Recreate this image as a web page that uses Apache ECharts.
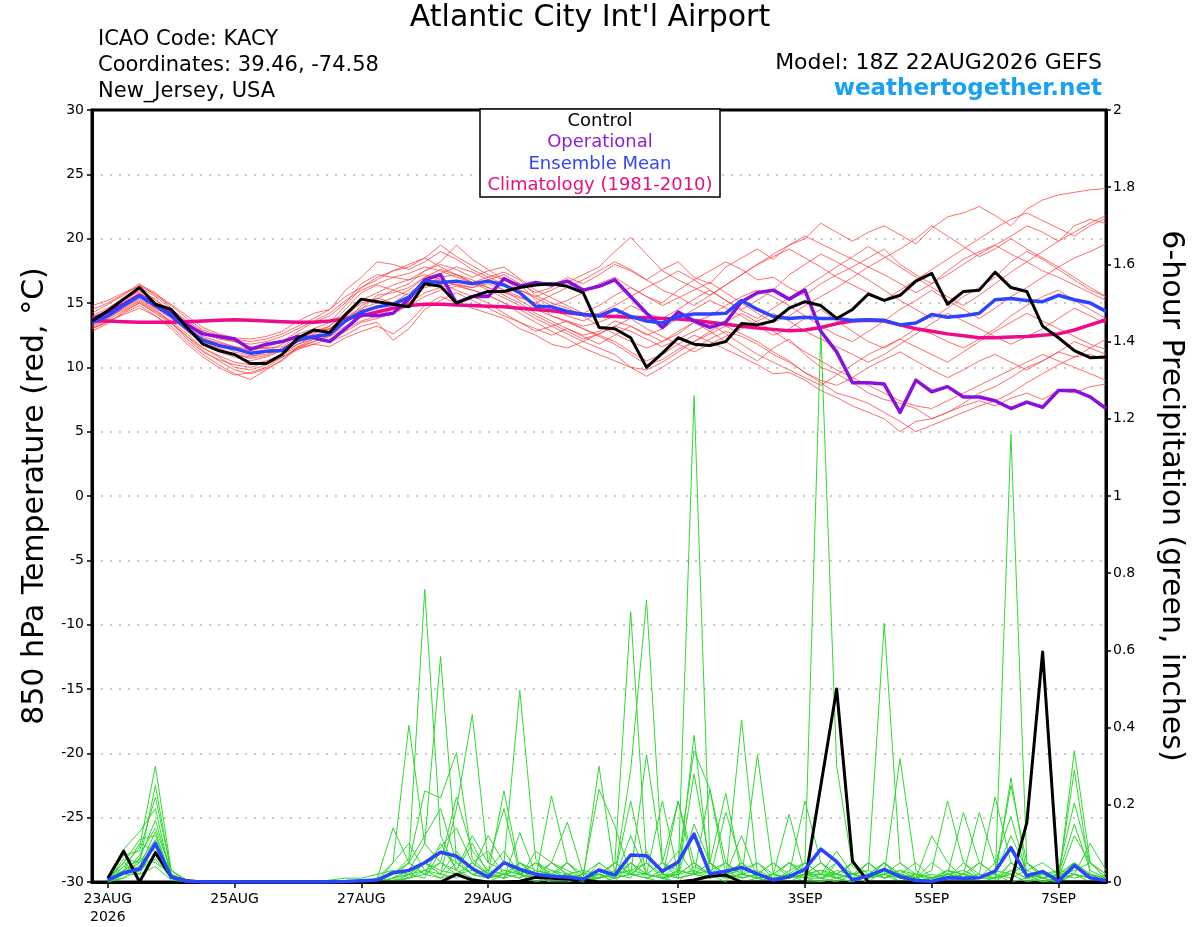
<!DOCTYPE html>
<html>
<head>
<meta charset="utf-8">
<script src="https://cdn.jsdelivr.net/npm/echarts@6/dist/echarts.min.js"></script>
<style>
  html, body { margin: 0; padding: 0; background: #fff; }
  #chart { width: 1200px; height: 927px; }
</style>
</head>
<body>
<div id="chart"></div>
<script>
const FONT = "'DejaVu Sans', 'Liberation Sans', Arial, sans-serif"

// x axis: hours since 18Z 22AUG2026, labels at 00Z
const dayHours = [6, 54, 102, 150, 222, 270, 318, 366]
const dayLabels = ["23AUG\n2026", "25AUG", "27AUG", "29AUG", "1SEP", "3SEP", "5SEP", "7SEP"]

// 850 hPa temperature, 6-hourly from 18Z 22AUG (65 values)
const controlTemp = [13.6,14.4,15.3,16.2,14.9,14.5,13.1,11.8,11.3,11.0,10.3,10.3,11.0,12.3,12.9,12.7,
  14.1,15.3,15.1,14.9,14.7,16.5,16.3,15.0,15.5,15.9,15.9,16.2,16.4,16.5,16.3,15.8,
  13.1,13.0,12.3,10.0,11.1,12.3,11.8,11.7,12.0,13.4,13.3,13.6,14.6,15.1,14.8,13.8,
  14.5,15.7,15.2,15.6,16.7,17.3,14.9,15.9,16.0,17.4,16.2,15.9,13.2,12.3,11.3,10.75,10.8]
const operationalTemp = [13.75,14.3,14.9,15.6,14.8,14.2,13.3,12.6,12.4,12.2,11.4,11.8,12.0,12.4,12.3,12.0,
  13.0,14.1,14.0,14.2,15.3,16.8,17.2,15.0,15.5,15.5,16.9,16.3,16.6,16.4,16.7,16.0,
  16.3,16.8,15.5,14.2,13.1,14.3,13.6,13.1,13.5,15.1,15.8,16.0,15.3,16.0,12.8,11.2,
  8.8,8.8,8.7,6.5,9.0,8.1,8.5,7.7,7.7,7.4,6.8,7.3,6.9,8.2,8.2,7.7,6.8]
const meanTemp = [13.5,14.0,14.8,15.55,14.8,14.0,13.0,12.1,11.7,11.45,11.1,11.25,11.3,12.1,12.4,12.55,
  13.6,14.3,14.7,14.9,15.45,16.7,16.6,16.7,16.5,16.7,16.4,15.8,14.75,14.7,14.35,14.1,
  14.0,14.5,13.95,13.6,13.45,13.95,14.15,14.15,14.2,15.2,14.5,13.95,13.8,13.9,13.8,13.8,
  13.65,13.7,13.65,13.3,13.45,14.1,13.9,14.0,14.2,15.25,15.35,15.2,15.1,15.6,15.25,15.0,14.35]
const climoTemp = [13.6,13.6,13.55,13.5,13.5,13.5,13.55,13.6,13.65,13.7,13.65,13.6,13.55,13.5,13.5,13.6,
  13.8,14.0,14.3,14.6,14.8,14.9,14.9,14.85,14.8,14.75,14.7,14.6,14.5,14.4,14.25,14.1,
  14.0,13.95,13.9,13.85,13.8,13.75,13.65,13.5,13.35,13.2,13.05,12.95,12.85,12.9,13.1,13.4,
  13.6,13.65,13.6,13.3,13.0,12.8,12.6,12.45,12.3,12.3,12.35,12.4,12.5,12.6,12.9,13.3,13.7]

const memberTemp = [
  [13.8,14.5,15.2,16.0,15.3,14.2,13.2,12.0,11.5,11.0,10.8,11.2,11.8,12.6,13.0,13.5,
   14.8,16.2,17.0,17.5,17.8,18.5,19.5,18.6,17.9,17.2,16.8,16.5,15.8,16.2,17.0,16.5,
   17.2,18.0,17.5,16.8,17.6,18.2,17.0,16.5,17.8,18.5,19.2,18.4,19.5,20.0,21.2,20.5,
   19.8,20.5,21.0,20.3,19.6,20.8,21.7,22.0,22.5,21.8,21.0,22.3,23.0,23.4,23.6,23.8,23.9],
  [13.2,13.8,14.6,15.2,14.5,13.5,12.4,11.3,10.5,9.8,9.5,9.9,10.5,11.5,12.0,12.5,
   13.2,13.9,14.3,14.6,15.0,16.2,16.5,16.0,15.5,15.0,14.2,13.5,12.8,13.2,13.6,13.0,
   12.5,12.0,11.2,10.5,11.0,11.8,12.5,12.0,11.4,10.8,10.2,9.5,9.6,9.0,8.2,7.65,
   7.0,6.5,6.0,5.0,5.8,6.0,6.5,7.0,7.4,7.0,7.6,8.0,7.5,8.2,8.0,8.5,8.7],
  [14.2,14.9,15.6,16.4,15.8,14.6,13.4,12.3,11.8,11.2,10.9,11.0,11.5,12.2,12.8,13.0,
   14.0,15.0,15.3,16.0,16.5,17.5,18.0,17.6,17.0,17.5,17.8,16.9,16.0,15.4,14.8,14.2,
   14.8,15.6,16.2,15.5,15.0,16.0,16.8,17.5,18.2,17.6,16.8,17.0,16.2,15.6,16.5,17.2,
   17.8,18.5,19.2,18.0,17.2,16.5,17.5,18.4,19.0,19.5,20.2,21.0,20.5,19.8,21.0,21.5,21.2],
  [13.0,13.5,14.2,14.8,14.0,13.2,12.0,11.0,10.2,9.5,9.05,9.8,10.6,11.6,12.2,12.0,
   12.5,13.2,13.5,12.1,13.0,14.5,15.2,15.8,15.2,14.6,14.0,13.5,13.0,12.5,13.0,12.4,
   11.8,12.5,13.2,12.6,12.0,12.6,13.5,12.8,12.0,11.2,10.5,11.5,12.2,11.0,10.0,9.5,
   8.8,8.0,7.5,7.2,6.8,6.0,6.5,7.2,8.0,8.5,9.2,10.0,10.5,11.2,10.8,11.0,10.6],
  [13.6,14.2,15.0,15.8,15.0,14.3,13.5,12.6,12.2,12.0,11.6,11.5,11.2,11.8,12.2,12.8,
   13.8,14.5,15.6,15.8,16.2,17.0,17.3,17.8,17.4,16.8,16.0,15.2,14.5,14.0,13.6,13.2,
   13.5,14.0,14.8,14.2,13.8,14.5,15.3,16.0,15.2,14.5,15.2,16.0,17.2,18.0,18.8,18.2,
   17.5,16.8,16.0,15.2,14.5,13.8,14.6,15.5,16.2,17.0,18.2,19.0,18.4,17.6,16.8,16.0,15.5],
  [13.4,14.0,14.7,15.3,14.6,13.8,12.8,11.8,11.2,10.8,10.5,10.8,11.3,12.0,12.6,13.2,
   14.5,15.8,16.4,16.0,15.6,16.4,17.0,17.2,16.6,16.2,15.6,15.0,14.2,13.6,13.0,12.5,
   12.8,13.6,13.2,12.5,13.0,13.8,14.5,15.2,14.6,14.0,13.2,12.5,13.0,13.8,14.5,13.6,
   12.8,12.0,11.5,12.2,13.0,12.6,12.0,11.5,12.2,13.0,14.0,14.8,15.5,16.0,15.2,14.5,13.8],
  [14.0,14.6,15.4,16.2,15.5,14.5,13.6,12.8,12.3,12.0,11.8,12.0,12.4,13.0,13.6,14.2,
   15.2,16.0,16.5,17.0,17.3,17.8,17.5,17.0,16.6,17.0,17.4,16.8,15.6,15.0,14.6,14.0,
   13.2,12.6,12.0,11.5,12.0,12.8,13.5,14.0,14.8,15.5,16.0,15.5,14.8,14.0,13.2,12.5,
   12.0,12.8,13.6,14.5,15.2,16.0,15.2,14.5,13.8,14.6,15.5,16.2,17.0,17.8,18.5,19.0,19.6],
  [12.8,13.4,14.3,15.0,14.2,13.4,12.4,11.5,10.8,10.0,9.8,10.2,10.8,11.4,11.8,12.2,
   12.8,13.5,13.8,14.2,14.8,15.5,16.0,16.3,16.0,15.6,15.0,14.5,13.8,13.2,12.6,12.0,
   11.5,11.0,10.0,9.3,10.0,10.8,11.5,12.2,12.8,12.4,11.8,11.0,10.4,9.6,9.0,8.6,
   9.2,10.0,10.6,11.2,10.5,9.8,9.2,9.8,10.5,11.0,10.4,9.8,10.5,11.2,12.0,11.5,11.0],
  [13.9,14.4,15.1,15.7,15.0,14.0,13.0,12.2,11.9,11.6,11.3,11.6,12.0,12.8,13.5,14.0,
   15.0,16.5,17.2,17.0,16.8,17.5,18.2,19.5,18.4,17.6,16.8,16.0,15.4,14.8,15.2,15.8,
   16.5,17.0,16.2,15.5,14.8,15.4,16.0,16.6,15.8,15.0,14.2,13.5,14.0,14.8,15.5,16.2,
   17.0,17.8,18.5,19.2,20.0,21.0,20.2,19.4,18.6,19.2,20.0,19.2,18.5,17.8,17.0,16.2,15.5],
  [13.3,13.9,14.5,15.1,14.4,13.6,12.6,11.5,10.9,10.4,10.2,10.5,11.0,11.6,12.0,12.4,
   13.0,13.6,14.0,14.5,15.0,15.8,16.2,16.5,16.2,16.8,17.2,16.5,15.2,14.0,13.5,13.0,
   12.4,11.8,11.0,10.2,10.6,11.4,12.0,12.6,13.2,12.6,12.0,11.2,10.5,9.6,8.8,8.0,
   7.65,7.2,6.5,5.8,5.0,5.5,6.0,6.5,7.0,7.4,8.0,8.8,9.5,10.2,10.8,11.5,12.2],
  [14.5,15.0,15.7,16.5,15.6,14.8,13.8,12.9,12.5,12.2,12.0,12.2,12.6,13.2,13.8,14.5,
   15.5,16.2,16.8,17.5,18.0,18.5,17.8,17.2,16.8,16.2,15.8,15.4,15.0,15.6,16.2,16.8,
   17.5,18.2,17.6,16.8,16.0,15.5,14.8,15.6,16.4,17.2,18.0,18.8,19.5,20.2,19.6,19.0,
   18.4,17.8,17.2,16.5,15.8,16.5,17.2,18.0,18.8,19.5,18.8,18.2,17.5,17.0,16.4,15.8,15.2],
  [13.1,13.7,14.4,15.0,14.3,13.5,12.2,11.2,10.6,10.2,10.0,10.4,11.0,11.8,12.4,13.0,
   13.6,14.8,15.4,15.0,15.8,16.5,16.8,16.4,16.0,15.6,15.0,14.2,13.5,12.8,12.2,11.5,
   11.0,10.5,10.0,9.8,10.4,11.2,12.0,12.8,13.5,14.2,13.5,12.8,12.0,11.2,10.5,9.8,
   9.2,8.6,8.0,7.4,7.0,6.8,7.4,8.0,8.6,9.2,9.8,10.4,11.0,10.5,10.0,9.5,9.0],
  [13.7,14.3,15.2,15.9,15.2,14.4,13.3,12.4,12.0,11.6,11.4,11.5,11.6,12.4,12.8,13.2,
   14.2,15.2,15.8,16.4,16.8,17.2,16.8,16.4,16.2,16.5,16.0,15.5,15.0,14.5,14.0,13.6,
   14.2,14.8,15.5,16.2,16.8,17.5,16.8,16.0,15.2,14.4,13.8,14.6,15.4,16.2,17.0,17.8,
   18.6,19.4,18.6,17.8,17.0,16.2,15.5,14.8,15.6,16.5,17.4,18.2,19.0,19.8,20.5,21.2,21.8],
  [13.5,14.1,14.9,15.5,14.7,13.9,12.9,11.9,11.4,11.0,10.7,10.9,11.4,12.2,12.7,13.0,
   13.9,14.6,15.0,15.4,16.0,17.0,17.6,17.2,16.6,16.0,15.4,14.8,14.0,13.4,12.8,12.2,
   12.6,13.2,13.8,13.0,12.4,11.8,11.2,11.8,12.4,13.0,13.6,14.2,13.6,12.8,12.2,11.6,
   11.0,10.4,11.0,11.8,12.6,13.4,14.2,13.6,13.0,12.4,11.8,12.4,13.0,13.8,14.6,14.0,13.4],
  [14.8,15.2,15.8,16.3,15.7,14.9,14.0,13.1,12.6,12.3,12.2,12.4,12.8,13.6,14.2,14.5,
   16.0,17.0,18.2,18.0,17.6,18.2,19.0,18.4,17.6,17.0,16.5,16.0,15.5,16.0,16.6,17.2,
   17.8,19.0,20.1,18.8,17.5,16.8,16.2,15.6,16.4,17.2,18.0,18.6,19.2,18.5,17.8,17.0,
   16.4,15.8,15.2,16.0,16.8,17.6,18.4,19.2,20.0,20.8,21.5,22.0,21.4,20.8,20.2,21.0,21.6],
  [13.0,13.6,14.1,14.6,14.0,13.0,11.8,10.8,10.0,9.4,9.6,10.0,10.8,11.5,11.8,11.6,
   12.3,12.8,13.2,12.6,13.5,14.8,15.5,15.0,14.6,14.2,13.8,13.0,12.5,11.8,11.5,12.0,
   12.6,13.2,12.8,12.2,11.6,12.2,12.8,13.4,12.6,11.8,11.0,10.4,9.8,9.2,8.6,9.4,
   10.2,11.0,11.6,12.2,11.6,11.0,10.4,11.2,12.0,12.8,13.5,14.2,13.6,13.0,12.4,11.8,11.4]
]

// 6-hour precipitation (inches), 6-hourly ending 00Z 23AUG (64 values)
const controlPrecip = [0.01,0.08,0,0.076,0.013,0.003,0,0,0,0,0,0,0,0,0,0,
  0,0,0,0,0,0,0.02,0.005,0,0,0.002,0.012,0.01,0.008,0.005,0,
  0,0,0,0,0,0.005,0.015,0.018,0,0,0,0,0,0.25,0.50,0.054,
  0,0,0,0,0,0,0,0,0,0,0.153,0.596,0,0,0,0]
const meanPrecip = [0.005,0.024,0.033,0.10,0.013,0.002,0,0,0,0,0,0,0,0,0,0.001,
  0.003,0.005,0.024,0.03,0.05,0.077,0.067,0.035,0.013,0.05,0.033,0.02,0.015,0.013,0.007,0.031,
  0.018,0.07,0.068,0.028,0.052,0.124,0.021,0.028,0.038,0.021,0.005,0.014,0.033,0.085,0.053,0.005,
  0.016,0.033,0.014,0.004,0.002,0.011,0.01,0.011,0.028,0.089,0.016,0.027,0.002,0.043,0.011,0.004]

const memberPrecip = [
  [0.01,0.04,0.09,0.30,0.03,0, 0,0,0,0,0,0,0,0,0,0,
   0,0,0.02,0.06,0.758,0.12,0.03,0.01,0,0.02,0.05,0.01,0,0,0.01,
   0.02,0,0.05,0.01,0,0.03,1.26,0.05,0.02,0,0.01,0,0,0.02,
   0.03,0.01,0,0.02,0.05,0.01,0,0,0.01,0,0,
   0,0.05,0.02,0,0.01,0.04,0.01,0],
  [0.005,0.06,0.05,0.25,0.02,0, 0,0,0,0,0,0,0,0,0,0,
   0,0.01,0.05,0.406,0.10,0.584,0.06,0.02,0.01,0.05,0.02,0,0.01,0.02,0,
   0.01,0.05,0.70,0.05,0.01,0,0.04,0.02,0,0.05,0.01,0,0.02,0,
   0,0.01,0,0.02,0.03,0,0,0.01,0.02,0,0.01,
   0.02,0,0.01,0.03,0,0.02,0,0],
  [0.01,0.085,0.13,0.19,0.01,0, 0,0,0,0,0,0,0,0,0,0,
   0,0.01,0.14,0.05,0.236,0.218,0.335,0.06,0.02,0.236,0.03,0.01,0.223,0.05,0.01,
   0.30,0.02,0.03,0.05,0.01,0.21,0.02,0.24,0.05,0.02,0.01,0,0.03,0.05,
   1.43,0.3,0.04,0.01,0.02,0,0.01,0,0.03,0.01,0,
   0,0.03,0.01,0,0,0.02,0.01,0],
  [0,0.03,0.06,0.16,0.02,0, 0,0,0,0,0,0,0,0,0.005,0.01,
   0.01,0.02,0.03,0.01,0.05,0.02,0.19,0.434,0.05,0.19,0.02,0.01,0.05,0.02,0,
   0.01,0.02,0.29,0.73,0.05,0.02,0.28,0.05,0.01,0.42,0.02,0,0.01,0.02,
   0.01,0,0.02,0.03,0.67,0.05,0.01,0,0.02,0.01,0,
   0.01,0.02,0,0.01,0.02,0.05,0.02,0.01],
  [0.005,0.05,0.11,0.12,0.015,0, 0,0,0,0,0,0,0,0,0,0,
   0,0,0.02,0.05,0.02,0.05,0.03,0.10,0.02,0.05,0.497,0.06,0.01,0.05,0.02,
   0.24,0.145,0.02,0.33,0.05,0.01,0.38,0.02,0.05,0.01,0.33,0.02,0.01,0.02,
   0.02,0.01,0.05,0.01,0.02,0.32,0.03,0,0.01,0.02,0,
   0,1.16,0.05,0.01,0,0.02,0.01,0],
  [0,0.02,0.04,0.09,0.01,0, 0,0,0,0,0,0,0,0,0,0,
   0,0,0,0.02,0.05,0.02,0.01,0.05,0.02,0.01,0.128,0.02,0.05,0.155,0.02,
   0.05,0.02,0.21,0.02,0.01,0.05,0.34,0.24,0.02,0.05,0.01,0.02,0.175,0.02,
   0.05,0.02,0.01,0,0.03,0.02,0.01,0.03,0.21,0.05,0.01,
   0.01,0.27,0.02,0.01,0,0.34,0.05,0.01],
  [0.01,0.07,0.08,0.22,0.03,0.005, 0,0,0,0,0,0,0,0,0,0,
   0,0,0.05,0.10,0.03,0.01,0.02,0.05,0.02,0.01,0.02,0.05,0.02,0.01,0,
   0.02,0.05,0.02,0.02,0.01,0.03,0.02,0.01,0.18,0.05,0.02,0.05,0.02,0.21,
   0.05,0.02,0.05,0.01,0.02,0.03,0.01,0,0.02,0.18,0.05,
   0.02,0.25,0.05,0.02,0.01,0.29,0.02,0],
  [0,0.04,0.03,0.06,0.01,0, 0,0,0,0,0,0,0,0,0,0,
   0,0,0.01,0.03,0.10,0.05,0.02,0.03,0.01,0.02,0.05,0.03,0.02,0.01,0.02,
   0.01,0.02,0.03,0.02,0.05,0.21,0.05,0.02,0.03,0.01,0.02,0.05,0.01,0.02,
   0.03,0.02,0.01,0.02,0.05,0.01,0.02,0.01,0.03,0.02,0.18,
   0.05,0.17,0.02,0.01,0.03,0.205,0.05,0.02],
  [0.01,0.03,0.10,0.08,0.02,0, 0,0,0,0,0,0,0,0,0,0,
   0,0.005,0.03,0.02,0.01,0.08,0.05,0.02,0.03,0.08,0.02,0.01,0.03,0.02,0.01,
   0.02,0.01,0.05,0.02,0.01,0.02,0.05,0.01,0.02,0.05,0.01,0.02,0.01,0.05,
   0.02,0.05,0.02,0.01,0.05,0.02,0.01,0.05,0.02,0.01,0.02,
   0.22,0.05,0.02,0.01,0.02,0.05,0.01,0],
  [0,0.02,0.07,0.14,0.03,0, 0,0,0,0,0,0,0,0,0,0,
   0,0,0.01,0.02,0.03,0.05,0.22,0.08,0.03,0.02,0.01,0.08,0.05,0.03,0.01,
   0.01,0.02,0.05,0.02,0.21,0.02,0.03,0.01,0.02,0.03,0.05,0.02,0.05,0.03,
   0.01,0.03,0.02,0.05,0.01,0.02,0.05,0.01,0.03,0.02,0.01,
   0.03,0.02,0.05,0.01,0.02,0.03,0.05,0.02],
  [0.005,0.02,0.05,0.11,0.01,0, 0,0,0,0,0,0,0,0,0,0,
   0,0.01,0.02,0.05,0.12,0.19,0.05,0.02,0.01,0.02,0.03,0.01,0.02,0.05,0.01,
   0,0.01,0.02,0.05,0.02,0.01,0.02,0.05,0.23,0.02,0.01,0.02,0.05,0.01,
   0,0.05,0.02,0.01,0.03,0.01,0.02,0,0.01,0.05,0.02,
   0.01,0.05,0.02,0.03,0.01,0.02,0.10,0.03],
  [0,0.01,0.03,0.07,0.01,0, 0,0,0,0,0,0,0,0,0,0,
   0,0,0.01,0.02,0.05,0.09,0.14,0.05,0.02,0.01,0.05,0.02,0.01,0.02,0.01,
   0.02,0.05,0.02,0.01,0.02,0.02,0.15,0.05,0.02,0.01,0.02,0.01,0.02,0.05,
   0.02,0.02,0.01,0.05,0.02,0.01,0,0.01,0.02,0.01,0.05,
   0.02,0.12,0.03,0.01,0.02,0.15,0.03,0.01],
  [0.01,0.05,0.02,0.10,0.02,0, 0,0,0,0,0,0,0,0,0,0,
   0,0,0,0.01,0.02,0.10,0.03,0.12,0.05,0.03,0.02,0.01,0.05,0.02,0,
   0.05,0.02,0.01,0.08,0.02,0.01,0.02,0.03,0.05,0.02,0.01,0,0.02,0.01,
   0.02,0.08,0.02,0.01,0.02,0.05,0.02,0.01,0.02,0.03,0.01,
   0.05,0.08,0.02,0,0.01,0.12,0.05,0.01],
  [0,0.03,0.04,0.13,0.01,0, 0,0,0,0,0,0,0,0,0,0,
   0,0,0.005,0.01,0.03,0.02,0.08,0.03,0.12,0.05,0.02,0.05,0.03,0.01,0.02,
   0.03,0.01,0.12,0.02,0.05,0.03,0.02,0.01,0.02,0.12,0.01,0.02,0.01,0.02,
   0.05,0.01,0.02,0.03,0.01,0.02,0.01,0.12,0.05,0.01,0.02,
   0.01,0.03,0.01,0.02,0.01,0.05,0.02,0],
  [0.005,0.01,0.06,0.05,0.02,0, 0,0,0,0,0,0,0,0,0,0,
   0,0,0,0.01,0.05,0.03,0.02,0.05,0.08,0.02,0.01,0.03,0.02,0.05,0.01,
   0.01,0.03,0.02,0.01,0.03,0.08,0.02,0.05,0.01,0.02,0.03,0.01,0.02,0.01,
   0.01,0.02,0.05,0.02,0.01,0.03,0.02,0.01,0.01,0.02,0.05,
   0.02,0.01,0.03,0.05,0.02,0.01,0.02,0.01],
  [0,0.02,0.02,0.04,0.005,0, 0,0,0,0,0,0,0,0,0,0,
   0,0,0.01,0.05,0.02,0.01,0.05,0.02,0.01,0.03,0.02,0.05,0.01,0.02,0.03,
   0.02,0.01,0.02,0.05,0.01,0.02,0.05,0.02,0.01,0.02,0.05,0.01,0.05,0.02,
   0.02,0.01,0.02,0.01,0.05,0.02,0.01,0.02,0.01,0.02,0.01,
   0.01,0.02,0.05,0.02,0.03,0.02,0.01,0]
]

const tempPairs = arr => arr.map((v, i) => [i * 6, v])
const precipPairs = arr => arr.map((v, i) => [(i + 1) * 6, v])

function line(data, color, width, yAxisIndex) {
  return {
    type: "line",
    data: data,
    yAxisIndex: yAxisIndex,
    symbol: "none",
    silent: true,
    animation: false,
    lineStyle: { color: color, width: width, join: "round" }
  }
}

const series = []
memberPrecip.forEach(m => series.push(line(precipPairs(m), "#2fd82f", 1, 1)))
memberTemp.forEach(m => series.push(line(tempPairs(m), "rgba(255,60,60,0.75)", 1, 0)))
series.push(line(precipPairs(controlPrecip), "#000", 3, 1))
series.push(line(precipPairs(meanPrecip), "#2a44ff", 3.5, 1))
series.push(line(tempPairs(climoTemp), "#ee0a88", 3.5, 0))
series.push(line(tempPairs(operationalTemp), "#8a10dc", 3.5, 0))
series.push(line(tempPairs(meanTemp), "#2a44ff", 3.5, 0))
series.push(line(tempPairs(controlTemp), "#000", 3, 0))

const headerText = (text, x, y, size, align, color, weight) => ({
  type: "text", x: x, y: y, z: 100,
  style: { text: text, fontSize: size, fontFamily: FONT, fontWeight: weight || "normal",
    fill: color || "#000", align: align, verticalAlign: "middle" }
})

const legendItems = [
  ["Control", "#000"],
  ["Operational", "#8a1fd8"],
  ["Ensemble Mean", "#3344ff"],
  ["Climatology (1981-2010)", "#e8117a"]
]

const chart = echarts.init(document.getElementById("chart"), null, { renderer: "canvas" })
chart.setOption({
  backgroundColor: "#fff",
  animation: false,
  grid: { left: 92, right: 94, top: 110, bottom: 45, show: true, borderColor: "#000", borderWidth: 3, backgroundColor: "transparent" },
  xAxis: {
    type: "value", min: 0, max: 384,
    axisLine: { show: true, onZero: false, lineStyle: { color: "#000", width: 3 } },
    axisTick: { show: true, customValues: dayHours, length: 6, lineStyle: { color: "#000", width: 1.5 } },
    axisLabel: {
      customValues: dayHours, color: "#000", fontSize: 14, fontFamily: FONT, margin: 8, lineHeight: 18,
      formatter: v => dayLabels[dayHours.indexOf(v)] || ""
    },
    splitLine: { show: false }
  },
  yAxis: [
    {
      type: "value", min: -30, max: 30, interval: 5, position: "left",
      name: "850 hPa Temperature (red, \u00b0C)", nameLocation: "middle", nameGap: 42,
      nameTextStyle: { fontSize: 30, fontFamily: FONT, color: "#000" },
      axisLine: { show: true, onZero: false, lineStyle: { color: "#000", width: 3 } },
      axisTick: { show: true, length: 5, lineStyle: { color: "#000", width: 1.5 } },
      axisLabel: { color: "#000", fontSize: 14, fontFamily: FONT, margin: 8 },
      splitLine: { show: true, showMinLine: false, showMaxLine: false, lineStyle: { color: "#b8b8b8", width: 1.5, type: [2, 7] } }
    },
    {
      type: "value", min: 0, max: 2, interval: 0.2, position: "right",
      name: "6-hour Precipitation (green, inches)", nameLocation: "middle", nameGap: 50, nameRotate: -90,
      nameTextStyle: { fontSize: 30, fontFamily: FONT, color: "#000" },
      axisLine: { show: true, onZero: false, lineStyle: { color: "#000", width: 3 } },
      axisTick: { show: true, length: 5, lineStyle: { color: "#000", width: 1.5 } },
      axisLabel: { color: "#000", fontSize: 14, fontFamily: FONT, margin: 7,
        formatter: v => String(Math.round(v * 10) / 10) },
      splitLine: { show: false }
    }
  ],
  graphic: [
    headerText("Atlantic City Int'l Airport", 590, 18, 30, "center"),
    headerText("ICAO Code: KACY", 98, 40, 21, "left"),
    headerText("Coordinates: 39.46, -74.58", 98, 66, 21, "left"),
    headerText("New_Jersey, USA", 98, 92, 21, "left"),
    headerText("Model: 18Z 22AUG2026 GEFS", 1102, 63, 22, "right"),
    headerText("weathertogether.net", 1102, 89, 23, "right", "#1ba1f2", "bold"),
    {
      type: "rect", z: 100,
      shape: { x: 480, y: 109, width: 240, height: 88 },
      style: { fill: "#fff", stroke: "#000", lineWidth: 1.5 }
    },
    ...legendItems.map((it, k) => headerText(it[0], 600, 121 + k * 21.5, 18, "center", it[1]))
  ],
  series: series
})
</script>
</body>
</html>
